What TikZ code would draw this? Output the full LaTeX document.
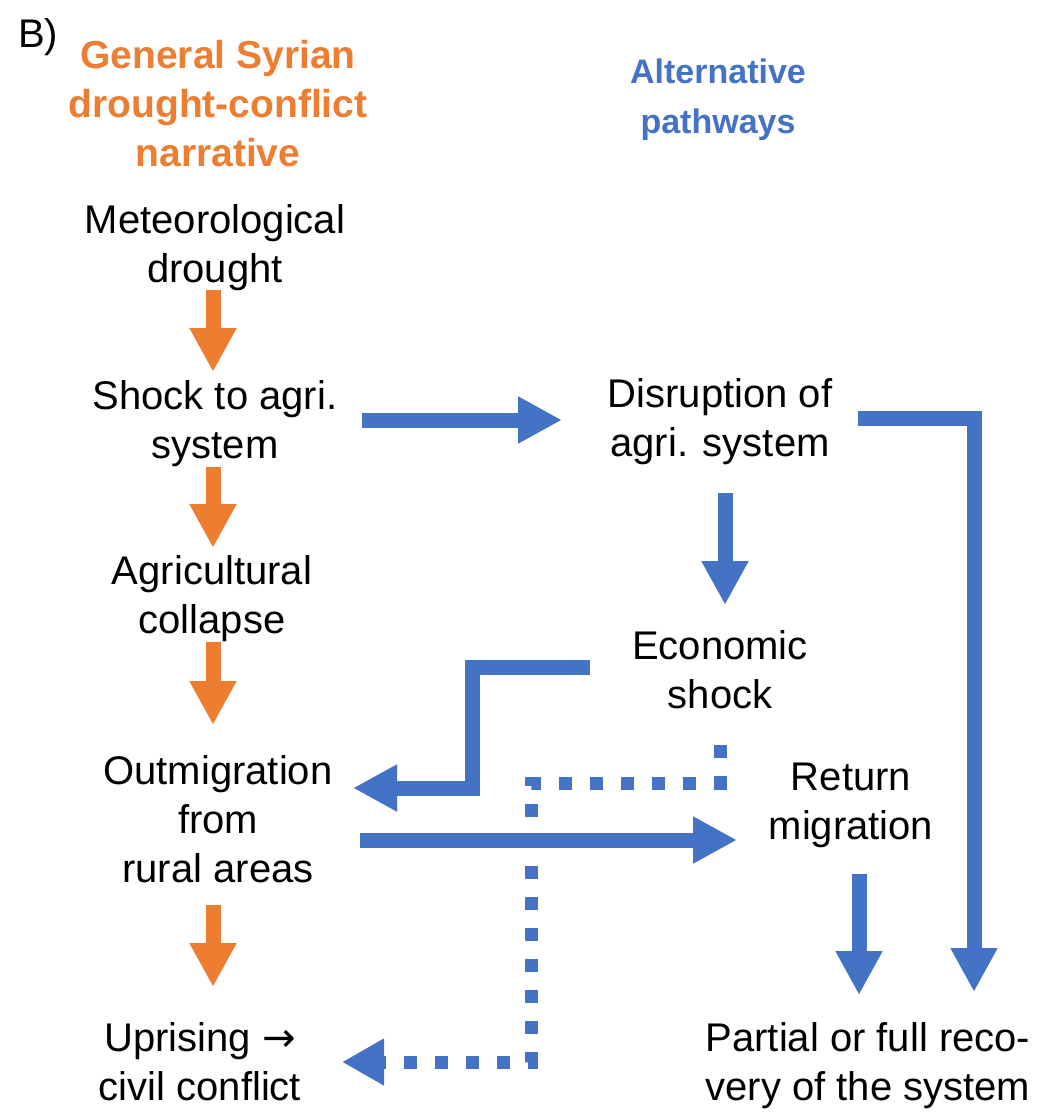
\documentclass[tikz,border=0pt]{standalone}
\usepackage{fontspec}
\setmainfont{Liberation Sans}
\newfontfamily\arrowfont{DejaVu Sans}
\usetikzlibrary{arrows.meta,calc}
\definecolor{oblue}{HTML}{4472C4}
\definecolor{oorange}{HTML}{ED7D31}
\begin{document}
\begin{tikzpicture}[x=1pt,y=-1pt,
  lbl/.style={align=center, inner sep=0pt, font=\fontsize{40}{49}\selectfont},
  otitle/.style={lbl, text=oorange, font=\fontsize{39}{49}\selectfont\bfseries},
  btitle/.style={lbl, text=oblue, font=\fontsize{34}{50}\selectfont\bfseries},
  oarr/.style={color=oorange, line width=15pt, -{Triangle[width=44pt,length=44pt]}},
  barr/.style={color=oblue, line width=15pt, -{Triangle[width=44pt,length=44pt]}},
  dotarr/.style={color=oblue, line width=13pt, dash pattern=on 13pt off 18pt, -{Triangle[width=44pt,length=42pt]}}
]
\useasboundingbox (0,0) rectangle (1050,1117);
\fill[white] (0,0) rectangle (1050,1117);

\node[lbl] (panel) at (38,37) {B)};
\node[otitle] (t1) at (218,104) {General Syrian\\drought-conflict\\narrative};
\node[btitle] (t2) at (718,100) {Alternative\\pathways};

\node[lbl] (met) at (215,248) {Meteorological\\drought};
\node[lbl] (shock) at (215,424) {Shock to agri.\\system};
\node[lbl] (agri) at (212,599) {Agricultural\\collapse};
\node[lbl] (outm) at (218,819) {Outmigration\\from\\rural areas};
\node[lbl] (upr) at (200,1062) {Uprising {\arrowfont →}\\civil conflict};

\node[lbl] (disr) at (720,422) {Disruption of\\agri. system};
\node[lbl] (econ) at (720,670) {Economic\\shock};
\node[lbl] (ret) at (851,805) {Return\\migration};
\node[lbl] (rec) at (868,1066) {Partial or full reco-\\very of the system};

% orange narrative chain
\draw[oarr] ($(met)+(-2,42)$) -- ($(shock)+(-2,-52)$);
\draw[oarr] ($(shock)+(-2,43)$) -- ($(agri)+(1,-51)$);
\draw[oarr] ($(agri)+(1,43)$) -- ($(outm)+(-5,-94)$);
\draw[oarr] ($(outm)+(-5,86)$) -- ($(upr)+(13,-75)$);

% blue alternative pathways
\draw[barr] ($(shock)+(147,-4)$) -- ($(disr)+(-158,-2)$);
\draw[barr] ($(disr)+(138,-4)$) -| ($(rec)+(106,-74)$);
\draw[barr] ($(disr)+(5,71)$) -- ($(econ)+(5,-65)$);
\draw[barr] ($(econ)+(-130,-3)$) -| ($(outm)+(254,-31)$) -- ($(outm)+(135,-31)$);
\draw[barr] ($(outm)+(142,21)$) -- ($(ret)+(-114,35)$);
\draw[barr] ($(ret)+(8,69)$) -- ($(rec)+(-9,-71)$);
\draw[dotarr] ($(econ)+(0,75)$) |- ($(upr)+(331,-279)$) -- ($(upr)+(331,0)$) -- ($(upr)+(142,0)$);
\end{tikzpicture}
\end{document}
